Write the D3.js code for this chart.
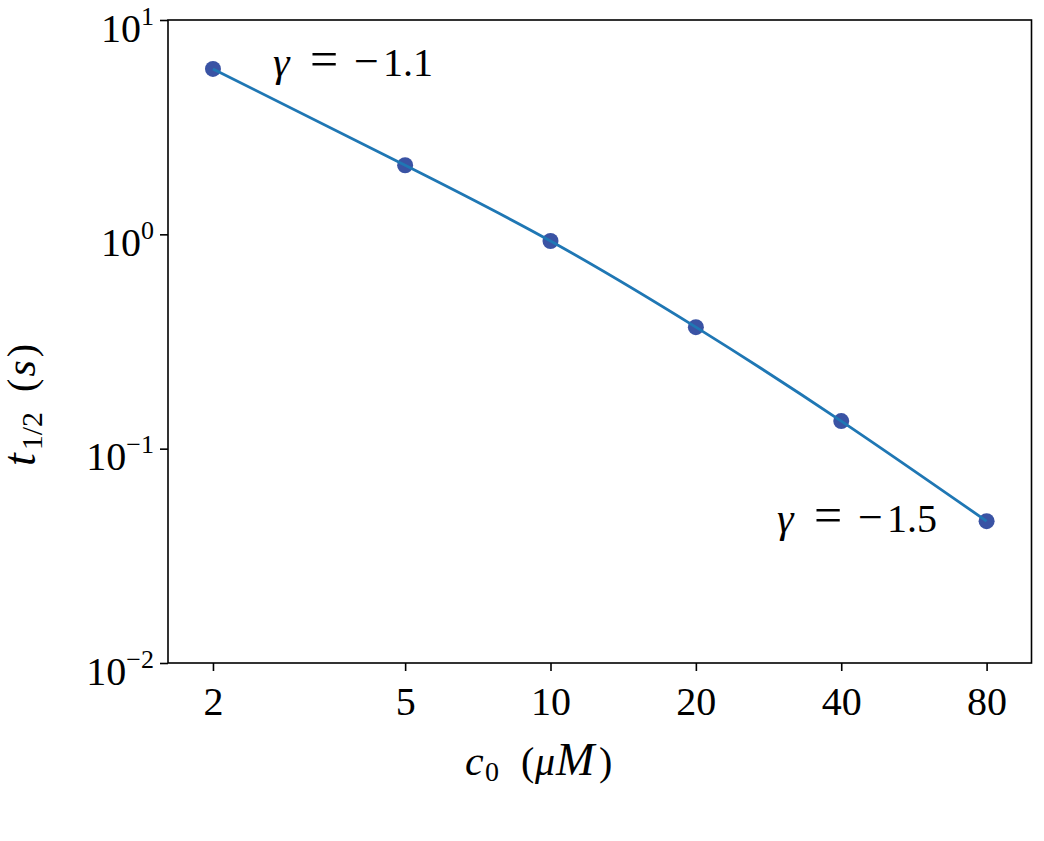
<!DOCTYPE html>
<html>
<head>
<meta charset="utf-8">
<script src="https://cdn.jsdelivr.net/npm/d3@7"></script>
<style>
  html, body { margin: 0; padding: 0; background: #fff; }
  text { font-family: "Liberation Serif", "DejaVu Serif", serif; fill: #000; }
</style>
</head>
<body>
<svg id="chart" width="1044" height="841"></svg>
<script>
// ---- data ----
const concentrations = [2, 5, 10, 20, 40, 80];          // c0 (µM)
const halfTimes = [5.91, 2.10, 0.931, 0.369, 0.1345, 0.0459]; // t1/2 (s)
const xTickValues = [2, 5, 10, 20, 40, 80];
const yTickExponents = [1, 0, -1, -2];
const annotationValues = ["−1.1", "−1.5"];

const svg = d3.select("#chart");
const pLeft = 168, pRight = 1031.5, pTop = 20, pBottom = 663;

const x = d3.scaleLog().domain([1.614, 99.1]).range([pLeft, pRight]);
const y = d3.scaleLog().domain([0.01, 10]).range([pBottom, pTop]);

// frame
svg.append("rect").attr("x", pLeft).attr("y", pTop)
  .attr("width", pRight - pLeft).attr("height", pBottom - pTop)
  .attr("fill", "none").attr("stroke", "#000").attr("stroke-width", 1.6);

// x axis
const xAxis = d3.axisBottom(x).tickValues(xTickValues).tickSize(8).tickFormat(d3.format("d"));
const gx = svg.append("g").attr("transform", `translate(0,${pBottom})`).call(xAxis);
gx.select(".domain").remove();
gx.selectAll(".tick line").attr("stroke", "#000").attr("stroke-width", 1.6);
gx.selectAll(".tick text").attr("font-size", 40).attr("dy", null).attr("y", 52)
  .style("font-family", "'Liberation Serif', serif").attr("fill", "#000");

// y axis
const yAxis = d3.axisLeft(y).tickValues(yTickExponents.map(e => Math.pow(10, e))).tickSize(8).tickFormat("");
const gy = svg.append("g").attr("transform", `translate(${pLeft},0)`).call(yAxis);
gy.select(".domain").remove();
gy.selectAll(".tick line").attr("stroke", "#000").attr("stroke-width", 1.6);
gy.selectAll(".tick").each(function(d) {
  const e = Math.round(Math.log10(d));
  const t = d3.select(this).append("text")
    .attr("x", -14).attr("y", 21).attr("text-anchor", "end").attr("font-size", 40)
    .style("font-family", "'Liberation Serif', serif").attr("fill", "#000");
  t.append("tspan").text("10");
  t.append("tspan").attr("font-size", 26).attr("dy", -17).text(e < 0 ? "−" + (-e) : String(e));
});

// markers (under the line)
const pts = concentrations.map((c, i) => [c, halfTimes[i]]);
svg.append("g").selectAll("circle").data(pts).join("circle")
  .attr("cx", d => x(d[0])).attr("cy", d => y(d[1])).attr("r", 8)
  .attr("fill", "#3a53a4");

// fitted line
const line = d3.line().x(d => x(d[0])).y(d => y(d[1])).curve(d3.curveNatural);
svg.append("path").datum(pts).attr("d", line)
  .attr("fill", "none").attr("stroke", "#1f77b4").attr("stroke-width", 2.8);

// annotations
const annPos = [[273, 76], [777, 532]];
annotationValues.forEach((v, i) => {
  const [ax, ay] = annPos[i];
  const t = svg.append("text").attr("y", ay).attr("font-size", 40);
  t.append("tspan").attr("x", ax).attr("font-style", "italic").attr("font-size", 42).text("γ");
  t.append("tspan").attr("x", ax + 37).attr("font-size", 50).text("=");
  t.append("tspan").attr("x", ax + 81).attr("font-size", 44).text("−");
  t.append("tspan").attr("x", ax + 110).attr("font-size", 40).text(v.slice(1));
});

// x label
const xl = svg.append("text").attr("y", 775).attr("font-size", 40);
xl.append("tspan").attr("x", 465).attr("font-style", "italic").attr("font-size", 42).text("c");
xl.append("tspan").attr("x", 485).attr("font-size", 28).attr("dy", 6).text("0");
xl.append("tspan").attr("x", 521).attr("dy", -6).text("(");
xl.append("tspan").attr("x", 535).attr("font-style", "italic").text("μ");
xl.append("tspan").attr("x", 556).attr("font-style", "italic").attr("font-size", 46).text("M");
xl.append("tspan").attr("x", 599).text(")");

// y label (rotated)
const yl = svg.append("text").attr("transform", "translate(35,466) rotate(-90)")
  .attr("font-size", 40);
yl.append("tspan").attr("font-style", "italic").attr("font-size", 46).text("t");
yl.append("tspan").attr("dx", 3).attr("font-size", 30).attr("dy", 7).text("1/2");
yl.append("tspan").attr("dx", 20).attr("dy", -7).text("(");
yl.append("tspan").attr("dx", 2).attr("font-style", "italic").attr("font-size", 42).text("s");
yl.append("tspan").attr("dx", 3).text(")");
</script>
</body>
</html>
